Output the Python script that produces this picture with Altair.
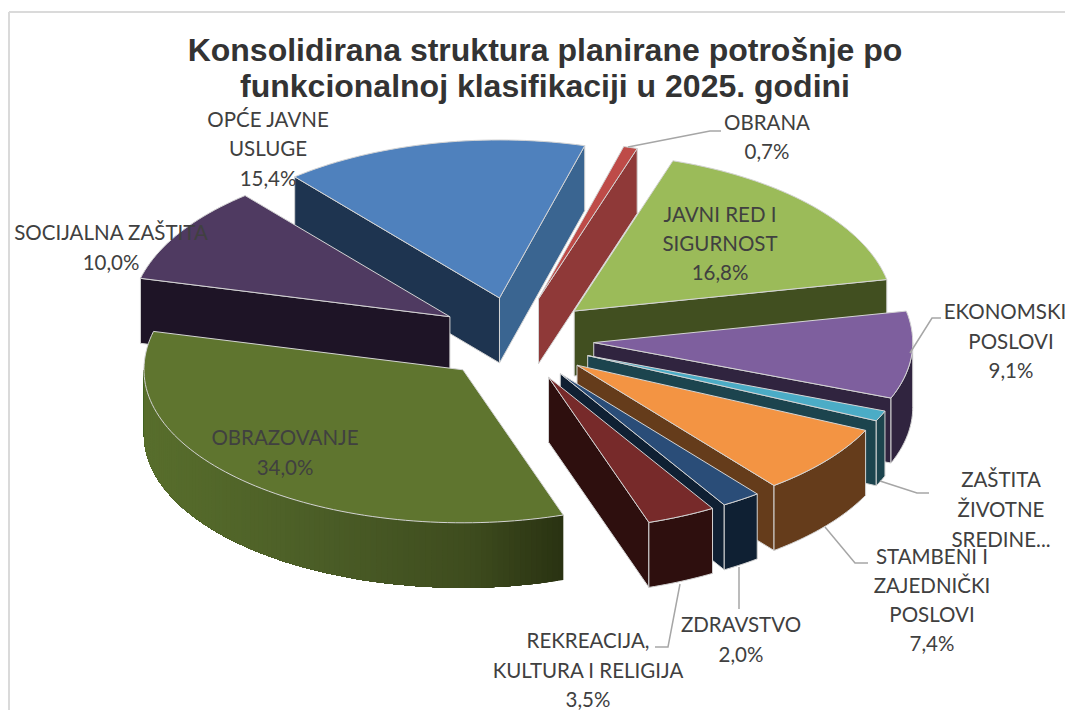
import math
import altair as alt

# ---- data ----
categories = ["OBRANA", "JAVNI RED I SIGURNOST", "EKONOMSKI POSLOVI", "ZAŠTITA ŽIVOTNE SREDINE",
              "STAMBENI I ZAJEDNIČKI POSLOVI", "ZDRAVSTVO", "REKREACIJA, KULTURA I RELIGIJA",
              "OBRAZOVANJE", "SOCIJALNA ZAŠTITA", "OPĆE JAVNE USLUGE"]
shares = [0.7, 16.8, 9.1, 1.1, 7.4, 2.0, 3.5, 34.0, 10.0, 15.4]

# ---- styles: top, start-side wall, end-side wall, outer wall ----
top_colors = ["#BE4B48", "#9BBB59", "#7E5F9E", "#4BACC6", "#F39443", "#2A4D78", "#772A2A", "#5F752F", "#4F3A61", "#4F81BD"]
side_colors = ["#8F3938", "#414F20", "#30243F", "#1C444E", "#653C1B", "#0F2033", "#2E0F0E", "#2A3312", "#1E1426", "#1E3450"]
end_side_colors = ["#8F3938", "#414F20", "#30243F", "#1C444E", "#653C1B", "#0F2033", "#2E0F0E", "#2A3312", "#1E1426", "#3A6591"]
wall_colors = ["#8F3938", "#414F20", "#30243F", "#1C444E", "#653C1B", "#0F2033", "#2E0F0E", None, "#1E1426", "#1E3450"]
olive_stops = [(143, (0x58, 0x6E, 0x2C)), (330, (0x4A, 0x5C, 0x26)), (470, (0x3E, 0x4C, 0x1E)), (560, (0x2A, 0x33, 0x12))]
EDGE = "#D4D4D4"

# ---- 3-D pie geometry (layout) ----
CX, CY, RX, RY_BACK, RY_FRONT = 516, 339, 319, 158, 153
EX, EY, DEPTH, FIRST_ANGLE = 78, 42, 65, 15.5


def ring(theta, ax, ay, z=0.0):
    t = math.radians(theta)
    c = math.cos(t)
    return [ax + RX * math.sin(t), ay - (RY_BACK if c > 0 else RY_FRONT) * c + z]


def feature(points, fill, stroke, width=1.0):
    coords = [[round(a, 2), round(b, 2)] for a, b in points]
    coords.append(coords[0])
    return {"type": "Feature", "geometry": {"type": "Polygon", "coordinates": [coords]},
            "properties": {"f": fill, "s": stroke, "w": width}}


def olive_at(x):
    for (x0, c0), (x1, c1) in zip(olive_stops, olive_stops[1:]):
        if x <= x1:
            k = max(0.0, (x - x0) / (x1 - x0))
            return "#%02X%02X%02X" % tuple(round(a + (b - a) * k) for a, b in zip(c0, c1))
    return "#%02X%02X%02X" % olive_stops[-1][1]


slices = []
angle = FIRST_ANGLE
for i, share in enumerate(shares):
    a0, a1 = angle, angle + share * 3.6
    angle = a1
    mid = math.radians((a0 + a1) / 2)
    slices.append((i, a0, a1, CX + EX * math.sin(mid), CY - EY * math.cos(mid), -math.cos(mid)))

features = []
for i, a0, a1, ax, ay, _ in sorted(slices, key=lambda s: s[5]):
    n = max(3, int((a1 - a0) / 1.5))
    # radial faces that look towards the viewer
    for theta, col, normal in ((a0, side_colors[i], a0 - 90), (a1, end_side_colors[i], a1 + 90)):
        if math.cos(math.radians(normal)) < 0:
            features.append(feature([[ax, ay], ring(theta, ax, ay), ring(theta, ax, ay, DEPTH), [ax, ay + DEPTH]], col, EDGE))
    # outer wall (front half only)
    lo, hi = max(a0, 90), min(a1, 270)
    if hi > lo:
        m = max(1, int((hi - lo) / 1.0))
        ts = [lo + (hi - lo) * k / m for k in range(m + 1)]
        if wall_colors[i] is None:
            # shaded wall: each band runs on to the wall's far end, so no seams show
            for t0, t1 in zip(ts, ts[1:]):
                rest = [t for t in ts if t >= t0]
                col = olive_at((ring(t0, ax, ay)[0] + ring(t1, ax, ay)[0]) / 2)
                features.append(feature([ring(t, ax, ay) for t in rest] + [ring(t, ax, ay, DEPTH) for t in reversed(rest)], col, col, 0.0))
        else:
            features.append(feature([ring(t, ax, ay) for t in ts] + [ring(t, ax, ay, DEPTH) for t in reversed(ts)], wall_colors[i], EDGE))
    # top surface
    ts = [a0 + (a1 - a0) * k / n for k in range(n + 1)]
    features.append(feature([[ax, ay]] + [ring(t, ax, ay) for t in ts], top_colors[i], EDGE))

pie = alt.Chart(alt.InlineData(values={"type": "FeatureCollection", "features": features},
                               format=alt.DataFormat(property="features", type="json"))).mark_geoshape().encode(
    color=alt.Color("properties.f:N", scale=None),
    stroke=alt.Stroke("properties.s:N", scale=None),
    strokeWidth=alt.StrokeWidth("properties.w:Q", scale=None),
).project(type="identity", scale=1, translate=[-8, -8])

# ---- texts and leaders (layout, picture coordinates) ----
OFF = 8
title_rows = [("Konsolidirana struktura planirane potrošnje po", 545, 51),
              ("funkcionalnoj klasifikaciji u 2025. godini", 545, 87)]
label_rows = [("OBRANA", 767, 124), ("0,7%", 767, 153),
              ("JAVNI RED I", 720, 216), ("SIGURNOST", 720, 245), ("16,8%", 720, 274),
              ("EKONOMSKI", 1005, 313), ("POSLOVI", 1011, 343), ("9,1%", 1011, 372),
              ("ZAŠTITA", 1001, 481), ("ŽIVOTNE", 1001, 511), ("SREDINE...", 1001, 541),
              ("STAMBENI  I", 932, 558), ("ZAJEDNIČKI", 932, 587), ("POSLOVI", 932, 616), ("7,4%", 932, 645),
              ("ZDRAVSTVO", 741, 626), ("2,0%", 741, 656),
              ("REKREACIJA,", 588, 642), ("KULTURA I RELIGIJA", 588, 672), ("3,5%", 588, 701),
              ("OBRAZOVANJE", 285, 439), ("34,0%", 285, 469),
              ("SOCIJALNA ZAŠTITA", 111, 234), ("10,0%", 111, 264),
              ("OPĆE JAVNE", 268, 121), ("USLUGE", 268, 150), ("15,4%", 268, 180)]
leaders = {"obrana": [(628, 147), (710, 131), (721, 131)],
           "ekonomski": [(910, 353), (932, 318), (941, 318)],
           "zastita": [(880, 481), (917, 493), (929, 493)],
           "stambeni": [(825, 527), (855, 563), (868, 563)],
           "zdravstvo": [(739, 567), (739, 609)],
           "rekreacija": [(680, 584), (668, 647), (655, 647)]}
frame = {"left": [(9, 12), (9, 718)], "top": [(9, 12), (1073, 12)]}


def rows(items):
    return alt.Data(values=[{"t": t, "x": x - OFF, "y": y - OFF} for t, x, y in items])


def paths(d):
    return alt.Data(values=[{"g": k, "o": j, "x": x - OFF, "y": y - OFF}
                            for k, pts in d.items() for j, (x, y) in enumerate(pts)])


X = alt.X("x:Q", scale=None, axis=None)
Y = alt.Y("y:Q", scale=None, axis=None)

frame_layer = alt.Chart(paths(frame)).mark_line(color="#DADADA", strokeWidth=2).encode(x=X, y=Y, detail="g:N", order="o:Q")
leader_layer = alt.Chart(paths(leaders)).mark_line(color="#A6A6A6", strokeWidth=1.5).encode(x=X, y=Y, detail="g:N", order="o:Q")
title_layer = alt.Chart(rows(title_rows)).mark_text(font="Liberation Sans", fontWeight="bold", fontSize=32,
                                                    color="#333333", baseline="middle", align="center").encode(x=X, y=Y, text="t:N")
label_layer = alt.Chart(rows(label_rows)).mark_text(font="Lato", fontSize=20.5, color="#404040",
                                                    baseline="middle", align="center").encode(x=X, y=Y, text="t:N")

chart = alt.layer(frame_layer, pie, leader_layer, title_layer, label_layer).properties(
    width=1057, height=702, padding=0, autosize=alt.AutoSizeParams(type="none"), background="white"
).configure_view(stroke=None)

chart.save("out.html", embed_options={"renderer": "svg", "actions": False})
